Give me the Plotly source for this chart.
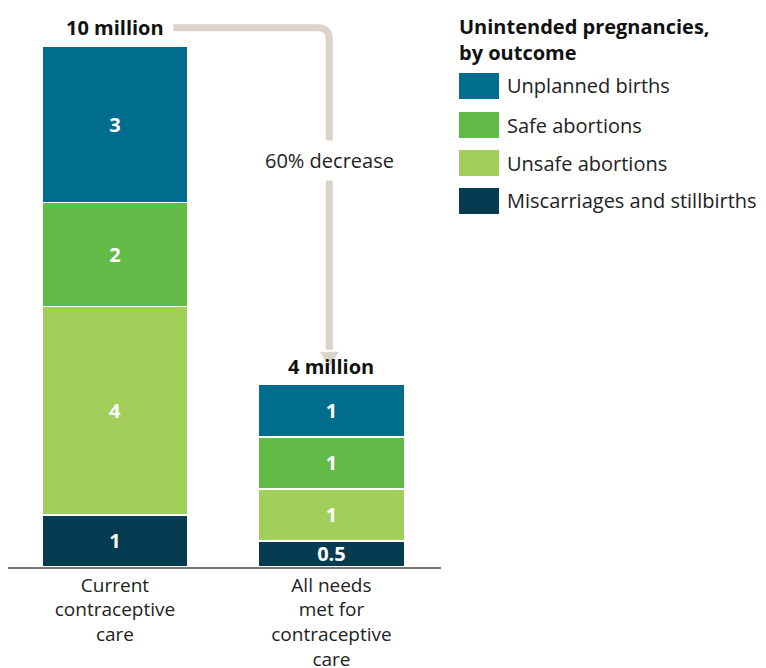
import plotly.graph_objects as go

# Unintended pregnancies (millions), by outcome, under two scenarios
scenarios = ["Current<br>contraceptive<br>care", "All needs<br>met for<br>contraceptive<br>care"]
outcomes = ["Miscarriages and stillbirths", "Unsafe abortions", "Safe abortions", "Unplanned births"]
miscarriages = [1, 0.5]
unsafe_abortions = [4, 1]
safe_abortions = [2, 1]
unplanned_births = [3, 1]
total_labels = ["10 million", "4 million"]
decrease_label = "60% decrease"
legend_title = "Unintended pregnancies,<br>by outcome"

colors = {
    "Unplanned births": "#006d8e",
    "Safe abortions": "#62bb47",
    "Unsafe abortions": "#a2cf59",
    "Miscarriages and stillbirths": "#053c52",
}
series = {
    "Miscarriages and stillbirths": miscarriages,
    "Unsafe abortions": unsafe_abortions,
    "Safe abortions": safe_abortions,
    "Unplanned births": unplanned_births,
}

FONT = "Open Sans"
W, H = 766, 668
ML, MR, MT, MB = 8, 325, 20, 101
PW, PH = W - ML - MR, H - MT - MB

def px_x(p):
    return (p - ML) / PW

def px_y(p):
    return (H - MB - p) / PH

fig = go.Figure()
xs = [0, 1]
for name in outcomes:
    vals = series[name]
    fig.add_trace(go.Bar(
        x=xs, y=vals, name=name, width=0.674,
        marker=dict(color=colors[name], line=dict(color="white", width=1.5)),
        text=[f"{v:g}" for v in vals], textposition="inside",
        insidetextanchor="middle",
        textfont=dict(family=FONT, size=20, color="white", weight="bold"),
        hoverinfo="skip", showlegend=False,
    ))

totals = [sum(series[n][i] for n in outcomes) for i in range(2)]
annotations = []
for i, lbl in enumerate(total_labels):
    annotations.append(dict(
        x=xs[i], y=totals[i], xref="x", yref="y", text=f"<b>{lbl}</b>",
        showarrow=False, yanchor="bottom", yshift=3,
        font=dict(family=FONT, size=20, color="#111"),
    ))

# Connector arrow from the first total down to the second
x0, xc = 0.27, 0.99
y0 = totals[0] + 0.35
rx, ry = 0.055, 0.23
head_top, head_tip, hw = totals[1] + 0.62, totals[1] + 0.36, 0.04
arrow_color = "#dcd4cb"
shapes = [
    dict(type="path", xref="x", yref="y",
         path=f"M {x0},{y0} L {xc - rx},{y0} Q {xc},{y0} {xc},{y0 - ry} L {xc},{head_top + 0.05}",
         line=dict(color=arrow_color, width=7)),
    dict(type="path", xref="x", yref="y",
         path=f"M {xc - hw},{head_top} L {xc + hw},{head_top} L {xc},{head_tip} Z",
         fillcolor=arrow_color, line=dict(color=arrow_color, width=1)),
]
annotations.append(dict(
    x=xc, y=7.8, xref="x", yref="y", text=decrease_label, showarrow=False,
    bgcolor="white", borderpad=6,
    font=dict(family=FONT, size=20, color="#222"),
))

# Legend drawn as swatches with labels
annotations.append(dict(
    x=px_x(457), y=px_y(11), xref="paper", yref="paper", text=f"<b>{legend_title}</b>",
    showarrow=False, xanchor="left", yanchor="top", align="left",
    font=dict(family=FONT, size=20, color="#111"),
))
legend_order = ["Unplanned births", "Safe abortions", "Unsafe abortions", "Miscarriages and stillbirths"]
legend_centers = [86, 125, 163, 201]
for name, cy in zip(legend_order, legend_centers):
    shapes.append(dict(
        type="rect", xref="paper", yref="paper",
        x0=px_x(459), x1=px_x(499), y0=px_y(cy + 13), y1=px_y(cy - 13),
        fillcolor=colors[name], line=dict(width=0),
    ))
    annotations.append(dict(
        x=px_x(505), y=px_y(cy), xref="paper", yref="paper", text=name,
        showarrow=False, xanchor="left", yanchor="middle",
        font=dict(family=FONT, size=20, color="#222"),
    ))

fig.update_layout(
    width=W, height=H, barmode="stack",
    margin=dict(l=ML, r=MR, t=MT, b=MB, autoexpand=False),
    paper_bgcolor="white", plot_bgcolor="white",
    shapes=shapes, annotations=annotations,
    xaxis=dict(range=[-0.494, 1.506], tickvals=xs, ticktext=scenarios,
               showgrid=False, zeroline=False, showline=True, linecolor="#777",
               linewidth=1.5, ticks="", fixedrange=True, automargin=False,
               tickfont=dict(family=FONT, size=19, color="#222")),
    yaxis=dict(range=[0, 10.5], visible=False, fixedrange=True, automargin=False),
    uniformtext=dict(minsize=20, mode="show"),
)

fig.write_html("out.html")
